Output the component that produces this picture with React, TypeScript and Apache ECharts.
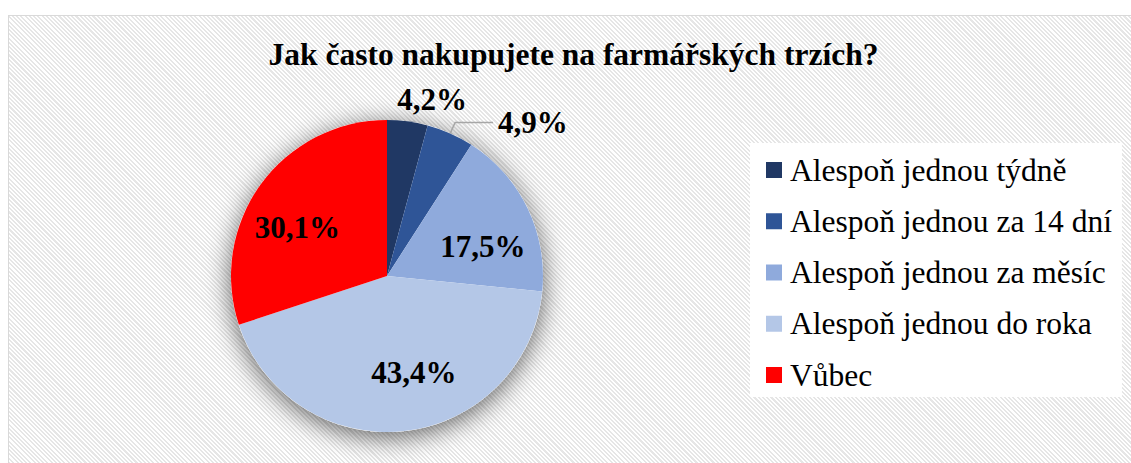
import React, { useEffect, useRef } from "react";
import * as echarts from "echarts";

const TITLE = "Jak často nakupujete na farmářských trzích?";
const categories = [
  "Alespoň jednou týdně",
  "Alespoň jednou za 14 dní",
  "Alespoň jednou za měsíc",
  "Alespoň jednou do roka",
  "Vůbec",
];
const values = [4.2, 4.9, 17.5, 43.4, 30.1];
const colors = ["#203864", "#2F5597", "#8FAADC", "#B4C7E7", "#FF0000"];

const FONT = "Liberation Serif";
// label nudges (dx, dy) relative to ECharts' default placement
const labelShift: number[][] = [[-18, -2], [0, 0], [23, 6], [18, 16], [-24, -1]];
const outside = [true, true, false, false, false];

export default function App() {
  const ref = useRef<HTMLDivElement>(null);
  useEffect(() => {
    const chart = echarts.init(ref.current!, null, { renderer: "svg" });
    chart.setOption({
      animation: false,
      backgroundColor: "transparent",
      textStyle: { fontFamily: FONT },
      title: {
        text: TITLE,
        left: "center",
        top: 22,
        padding: 0,
        textStyle: { fontFamily: FONT, fontSize: 31.5, fontWeight: "bold", color: "#000" },
      },
      legend: {
        orient: "vertical",
        left: 741,
        top: 127,
        padding: [11, 10, 6, 16],
        backgroundColor: "#fff",
        itemWidth: 16,
        itemHeight: 16,
        itemGap: 19.25,
        icon: "rect",
        data: categories,
        textStyle: { fontFamily: FONT, fontSize: 31.5, lineHeight: 32, color: "#000", padding: [0, 0, 0, 3] },
      },
      series: [
        {
          type: "pie",
          silent: true,
          z: 1,
          center: [378, 260],
          radius: 156,
          data: [{ value: 1, name: "bg" }],
          itemStyle: { color: "#fff", shadowBlur: 26, shadowColor: "rgba(0,0,0,0.6)", shadowOffsetY: 5 },
          label: { show: false },
          labelLine: { show: false },
        },
        {
          type: "pie",
          z: 2,
          center: [378, 260],
          radius: 156,
          startAngle: 90,
          clockwise: true,
          avoidLabelOverlap: false,
          data: categories.map((name, i) => ({
            name,
            value: values[i],
            itemStyle: { color: colors[i] },
            label: {
              position: outside[i] ? "outside" : "inside",
              padding: i === 1 ? [0, 0, 18, 0] : 0,
            },
            labelLine: i === 0 ? { show: false, length: 20, length2: 0 } : { show: i === 1 },
          })),
          label: {
            formatter: (p: any) => p.value.toFixed(1).replace(".", ",") + "%",
            fontFamily: FONT,
            fontSize: 31,
            fontWeight: "bold",
            color: "#000",
          },
          labelLine: { length: 12, length2: 38, lineStyle: { color: "#a6a6a6", width: 1.5 } },
          labelLayout: (params: any) => {
            const s = labelShift[params.dataIndex] || [0, 0];
            return { dx: s[0], dy: s[1] };
          },
        },
      ],
    });
    return () => chart.dispose();
  }, []);

  return (
    <div
      style={{
        position: "absolute",
        left: 8,
        top: 15,
        width: 1131,
        height: 460,
        boxSizing: "border-box",
        border: "1px solid #d9d9d9",
        background:
          "repeating-linear-gradient(45deg, #ffffff 0px, #ffffff 1.5px, #e6e6e6 1.5px, #e6e6e6 3px)",
      }}
    >
      <div ref={ref} style={{ width: "100%", height: "100%" }} />
    </div>
  );
}
